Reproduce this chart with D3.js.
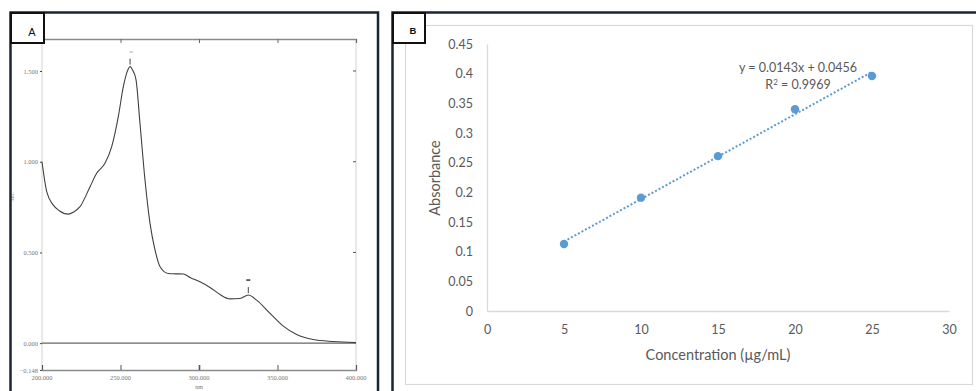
<!DOCTYPE html>
<html>
<head>
<meta http-equiv="Content-type" content="text/html; charset=utf-8">
<title>UV spectrum and calibration curve</title>
<script src="https://cdn.jsdelivr.net/npm/d3@7/dist/d3.min.js"></script>
<style>
  body { margin: 0; background: #fff; }
  svg { display: block; }
</style>
</head>
<body>
<script type="text/javascript">

  // ---- panel A : UV spectrum ----
  var wavelength = [200, 203, 207.2, 211, 216.8, 220, 224.2, 230.6, 234.8, 240.1, 244.4, 248.6, 251.8,
                    254, 256.1, 258, 259.9, 262.4, 265.6, 268.8, 272, 275.2, 280.4, 285, 290, 294.3,
                    300.6, 307, 313.4, 319.7, 326.1, 331.4, 336.7, 345.2, 353.7, 362.2, 372.8, 385.6, 400];
  var absorbance = [1.0, 0.835, 0.761, 0.73, 0.711, 0.722, 0.752, 0.862, 0.936, 0.991, 1.083, 1.248, 1.414,
                    1.49, 1.524, 1.5, 1.451, 1.212, 0.899, 0.66, 0.513, 0.421, 0.384, 0.382, 0.381, 0.362,
                    0.338, 0.307, 0.268, 0.244, 0.246, 0.265, 0.237, 0.164, 0.094, 0.048, 0.02, 0.009, 0.003];
  var specXTicks = [200, 250, 300, 350, 400];
  var specYTicks = [-0.148, 0, 0.5, 1, 1.5];
  var specRightTicks = [0.5, 1, 1.5];
  var peaks = [256.1, 331.4];

  // ---- panel B : calibration curve ----
  var concentration = [5, 10, 15, 20, 25];
  var calAbs = [0.113, 0.191, 0.261, 0.340, 0.396];
  var calXTicks = [0, 5, 10, 15, 20, 25, 30];
  var calYTicks = [0, 0.05, 0.1, 0.15, 0.2, 0.25, 0.3, 0.35, 0.4, 0.45];
  var trendSlope = 0.0143, trendIntercept = 0.0456, trendR2 = 0.9969;

  var svg = d3.select("body").append("svg").attr("width", 976).attr("height", 391);

  // ================= PANEL A =================
  var gA = svg.append("g");
  var xA = d3.scaleLinear().domain([200, 400]).range([42, 356]);
  var yA = d3.scaleLinear().domain([-0.148, 1.5]).range([370, 71]);
  var yTop = 39;

  // light frame of the plot
  gA.append("line").attr("x1", 42).attr("x2", 42).attr("y1", yTop).attr("y2", 370)
    .attr("stroke", "#d4d4d4").attr("stroke-width", 1);
  gA.append("line").attr("x1", 356).attr("x2", 356).attr("y1", yTop).attr("y2", 370)
    .attr("stroke", "#d4d4d4").attr("stroke-width", 1);

  // top axis
  var topAx = gA.append("g").attr("transform", "translate(0," + yTop + ")")
    .call(d3.axisBottom(xA).tickValues(specXTicks).tickSize(4).tickFormat(""));
  topAx.select(".domain").attr("stroke", "#8a8a8a").attr("stroke-width", 1.3);
  topAx.selectAll(".tick line").attr("stroke", "#666");

  // bottom axis
  var botAx = gA.append("g").attr("transform", "translate(0,370)")
    .call(d3.axisTop(xA).tickValues(specXTicks).tickSize(5).tickFormat(""));
  botAx.select(".domain").attr("stroke", "#8a8a8a").attr("stroke-width", 1.3);
  botAx.selectAll(".tick line").attr("stroke", "#555").attr("stroke-width", function(d){ return d == 300 ? 1.6 : 1; });
  gA.selectAll(".xlabA").data(specXTicks).enter().append("text")
    .attr("x", function(d){ return xA(d); }).attr("y", 380)
    .attr("text-anchor", "middle")
    .style("font", "6.5px 'Liberation Serif'").attr("fill", "#777")
    .text(function(d){ return d3.format(".3f")(d); });
  gA.append("text").attr("x", xA(300)).attr("y", 389).attr("text-anchor", "middle")
    .style("font", "6px 'Liberation Serif'").attr("fill", "#777").text("nm");

  // left axis
  var leftAx = gA.append("g").attr("transform", "translate(42,0)")
    .call(d3.axisLeft(yA).tickValues(specYTicks).tickSize(2).tickPadding(2)
      .tickFormat(function(d){ return d3.format(".3f")(d); }));
  leftAx.select(".domain").remove();
  leftAx.selectAll(".tick line").attr("stroke", "#444");
  leftAx.selectAll("text").style("font", "6.5px 'Liberation Serif'").attr("fill", "#777");
  gA.append("text").attr("transform", "translate(14,197) rotate(-90)").attr("text-anchor", "middle")
    .style("font", "5px 'Liberation Serif'").attr("fill", "#777").text("Abs.");

  // right axis ticks
  gA.selectAll(".rtick").data(specRightTicks).enter().append("line")
    .attr("x1", 353).attr("x2", 356)
    .attr("y1", function(d){ return yA(d); }).attr("y2", function(d){ return yA(d); })
    .attr("stroke", "#555").attr("stroke-width", 1);

  // baseline 0.000
  gA.append("line").attr("x1", 42).attr("x2", 356).attr("y1", yA(0)).attr("y2", yA(0))
    .attr("stroke", "#666").attr("stroke-width", 1.3);

  // spectrum
  var specLine = d3.line().curve(d3.curveMonotoneX)
    .x(function(d){ return xA(d[0]); }).y(function(d){ return yA(d[1]); });
  gA.append("path").datum(d3.zip(wavelength, absorbance))
    .attr("d", specLine).attr("fill", "none")
    .attr("stroke", "#404040").attr("stroke-width", 1.1);

  // peak picks
  peaks.forEach(function(p, i) {
    var a = absorbance[wavelength.indexOf(p)];
    gA.append("line").attr("x1", xA(p)).attr("x2", xA(p))
      .attr("y1", yA(a) - 8).attr("y2", yA(a) - 2)
      .attr("stroke", "#444").attr("stroke-width", 1);
    if (i == 0) {
      gA.append("text").attr("x", xA(p) + 1).attr("y", yA(a) - 13).attr("text-anchor", "middle")
        .style("font", "7px 'Liberation Serif'").attr("fill", "#666").text("~");
    } else {
      gA.append("line").attr("x1", xA(p) - 2).attr("x2", xA(p) + 2)
        .attr("y1", yA(a) - 15).attr("y2", yA(a) - 15)
        .attr("stroke", "#333").attr("stroke-width", 1.5);
    }
  });

  // outer frame + label box
  gA.append("rect").attr("x", 10.5).attr("y", 12.5).attr("width", 367.5).attr("height", 400)
    .attr("fill", "none").attr("stroke", "#1b2433").attr("stroke-width", 2.5);
  gA.append("rect").attr("x", 11).attr("y", 13).attr("width", 33).attr("height", 30)
    .attr("fill", "#fff").attr("stroke", "#111").attr("stroke-width", 2);
  gA.append("text").attr("x", 32).attr("y", 36).attr("text-anchor", "middle")
    .style("font", "11px 'Liberation Sans'").attr("fill", "#111").text("A");

  // ================= PANEL B =================
  var gB = svg.append("g");
  var grey = "#595959";
  gB.append("rect").attr("x", 405.5).attr("y", 25.5).attr("width", 567).attr("height", 359)
    .attr("fill", "none").attr("stroke", "#d9d9d9").attr("stroke-width", 1.2);

  var xB = d3.scaleLinear().domain([0, 30]).range([487, 949]);
  var yB = d3.scaleLinear().domain([0, 0.45]).range([311, 44]);

  var axL = gB.append("g").attr("transform", "translate(487,0)")
    .call(d3.axisLeft(yB).tickValues(calYTicks).tickSize(0).tickPadding(14)
      .tickFormat(function(d){ return String(+d.toFixed(2)); }));
  axL.select(".domain").attr("stroke", "#d9d9d9").attr("stroke-width", 1.3);
  axL.selectAll("text").style("font", "12.5px Lato").attr("fill", grey);

  var axB = gB.append("g").attr("transform", "translate(0,311)")
    .call(d3.axisBottom(xB).tickValues(calXTicks).tickSize(0).tickPadding(14));
  axB.select(".domain").attr("stroke", "#d9d9d9").attr("stroke-width", 1.3);
  axB.selectAll("text").style("font", "12.5px Lato").attr("fill", grey);

  gB.append("text").attr("x", 718).attr("y", 360).attr("text-anchor", "middle")
    .style("font", "14.5px Lato").attr("fill", grey).text("Concentration (µg/mL)");
  gB.append("text").attr("transform", "translate(440,178) rotate(-90)").attr("text-anchor", "middle")
    .style("font", "14.5px Lato").attr("fill", grey).text("Absorbance");

  // linear trendline
  var xs = d3.extent(concentration);
  gB.append("line")
    .attr("x1", xB(xs[0])).attr("y1", yB(trendSlope * xs[0] + trendIntercept))
    .attr("x2", xB(xs[1])).attr("y2", yB(trendSlope * xs[1] + trendIntercept))
    .attr("stroke", "#5b9bd5").attr("stroke-width", 2).attr("stroke-dasharray", "2,2");

  gB.selectAll(".pt").data(d3.zip(concentration, calAbs)).enter().append("circle")
    .attr("cx", function(d){ return xB(d[0]); }).attr("cy", function(d){ return yB(d[1]); })
    .attr("r", 4.2).attr("fill", "#5b9bd5");

  var eq = gB.append("text").attr("x", 798).attr("y", 72).attr("text-anchor", "middle")
    .style("font", "12.5px Lato").attr("fill", grey)
    .text("y = " + trendSlope + "x + " + trendIntercept);
  var r2 = gB.append("text").attr("x", 798).attr("y", 89).attr("text-anchor", "middle")
    .style("font", "12.5px Lato").attr("fill", grey);
  r2.append("tspan").text("R");
  r2.append("tspan").attr("dy", -4).style("font-size", "8px").text("2");
  r2.append("tspan").attr("dy", 4).text(" = " + trendR2);

  // outer frame + label box
  gB.append("rect").attr("x", 392.5).attr("y", 12.5).attr("width", 600).attr("height", 400)
    .attr("fill", "none").attr("stroke", "#1b2433").attr("stroke-width", 2.5);
  gB.append("rect").attr("x", 393).attr("y", 13).attr("width", 32).attr("height", 30)
    .attr("fill", "#fff").attr("stroke", "#111").attr("stroke-width", 2);
  gB.append("text").attr("x", 413).attr("y", 34).attr("text-anchor", "middle")
    .style("font", "bold 9.5px 'Liberation Sans'").attr("fill", "#111").text("B");

</script>
</body>
</html>
